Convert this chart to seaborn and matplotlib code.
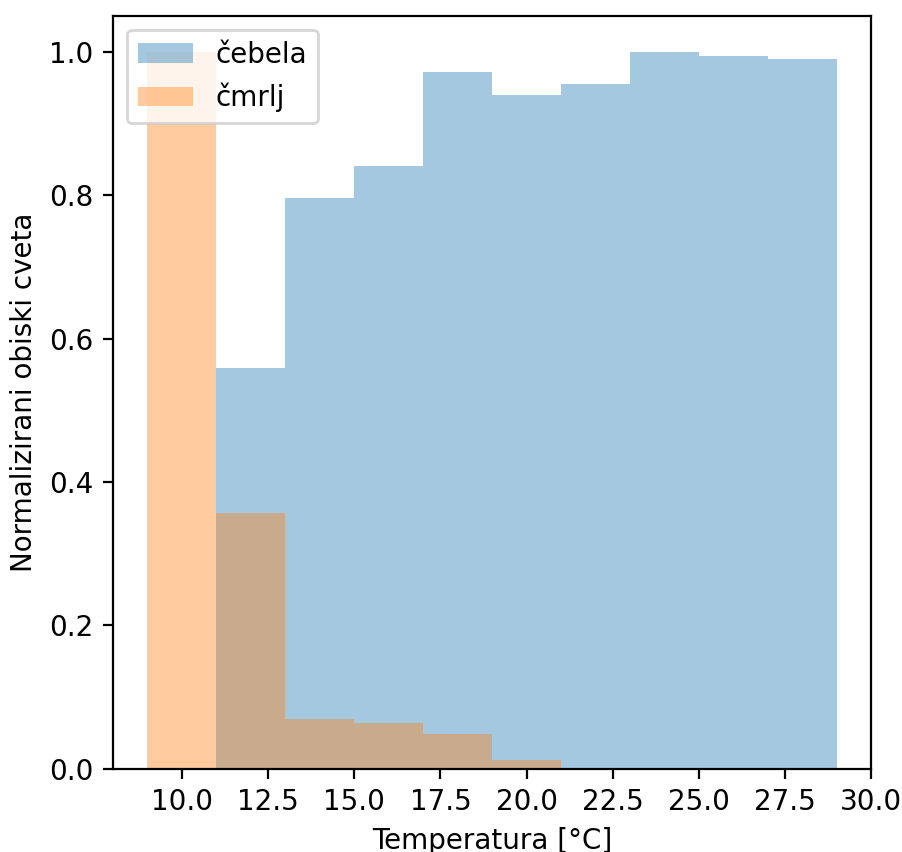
import numpy as np
import seaborn as sns
import matplotlib.pyplot as plt

# Bin edges (2 °C wide) and normalized visit counts
bee_edges = [11, 13, 15, 17, 19, 21, 23, 25, 27, 29]
bee_values = [0.559, 0.796, 0.840, 0.972, 0.939, 0.955, 1.000, 0.994, 0.990]

bumblebee_edges = [9, 11, 13, 15, 17, 19, 21]
bumblebee_values = [1.000, 0.357, 0.070, 0.064, 0.049, 0.013]

labels = ['čebela', 'čmrlj']


def centers(edges):
    e = np.asarray(edges, dtype=float)
    return (e[:-1] + e[1:]) / 2


fig = plt.figure(figsize=(4.515, 4.26), dpi=200)
ax = fig.add_axes([0.125, 0.0975, 0.84, 0.884])

sns.histplot(x=centers(bee_edges), weights=bee_values, bins=bee_edges,
             color='C0', alpha=0.4, linewidth=0, label=labels[0], ax=ax)
sns.histplot(x=centers(bumblebee_edges), weights=bumblebee_values,
             bins=bumblebee_edges, color='C1', alpha=0.4, linewidth=0,
             label=labels[1], ax=ax)

ax.set_xlim(8, 30)
ax.set_ylim(0, 1.05)
ax.set_xticks(np.arange(10, 30.1, 2.5))
ax.set_xlabel('Temperatura [°C]')
ax.set_ylabel('Normalizirani obiski cveta')
ax.legend(loc='upper left')

fig.savefig('out.png', dpi=200)
